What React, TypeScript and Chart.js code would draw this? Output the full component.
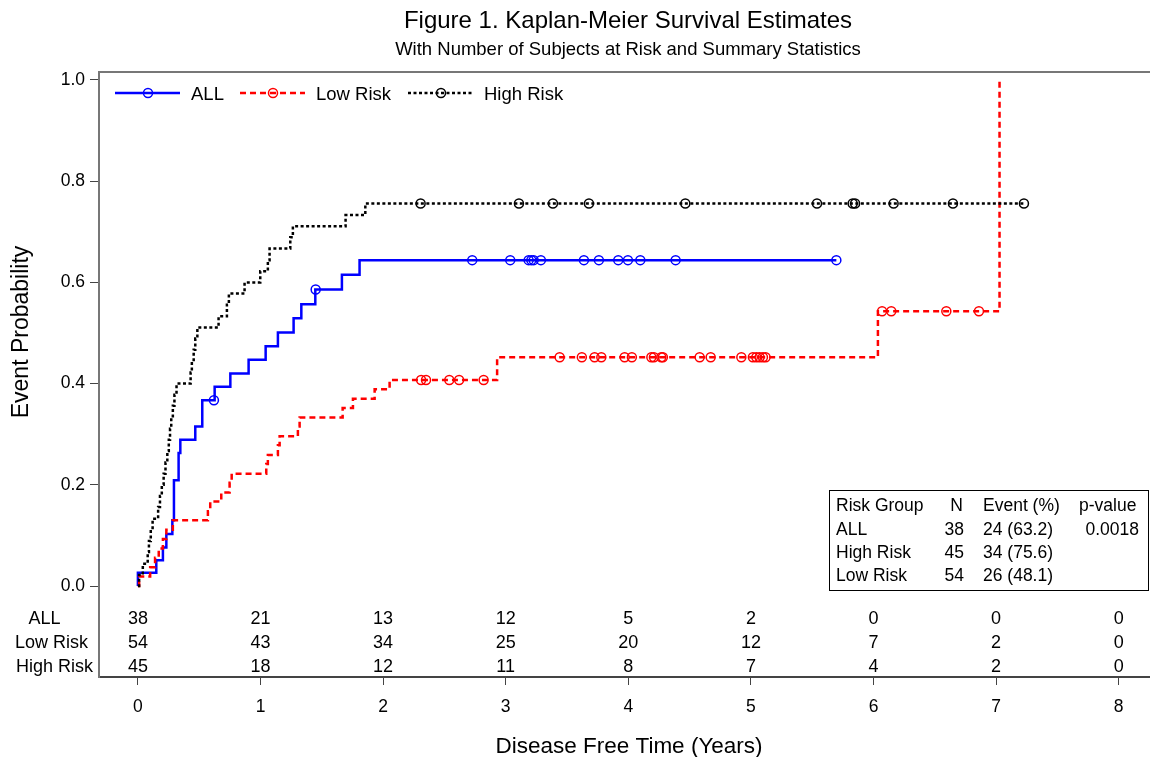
import React, { useEffect, useRef } from "react";
import { Chart, registerables } from "chart.js";

Chart.register(...registerables);

const FONT = '"Liberation Sans", Arial, Helvetica, sans-serif';

// Axis ticks
const xTicks = [0, 1, 2, 3, 4, 5, 6, 7, 8];
const yTicks = [0, 0.2, 0.4, 0.6, 0.8, 1.0];

// Titles
const titleText = "Figure 1. Kaplan-Meier Survival Estimates";
const subtitleText = "With Number of Subjects at Risk and Summary Statistics";
const xTitle = "Disease Free Time (Years)";
const yTitle = "Event Probability";

// Series names
const seriesNames = ["ALL", "Low Risk", "High Risk"];

// ALL: step times (years) and cumulative event probability
const allTimes = [0, 0, 0.150, 0.204, 0.232, 0.281, 0.294, 0.332, 0.346, 0.468, 0.525, 0.626, 0.754, 0.903, 1.042, 1.142, 1.270, 1.333, 1.447, 1.664, 1.808, 5.697];
const allProb = [0, 0.026, 0.051, 0.076, 0.103, 0.130, 0.209, 0.263, 0.289, 0.315, 0.367, 0.394, 0.420, 0.447, 0.474, 0.501, 0.529, 0.557, 0.586, 0.615, 0.644, 0.644];
const allCensor = [0.62, 1.45, 2.727, 3.037, 3.187, 3.209, 3.228, 3.287, 3.638, 3.760, 3.918, 3.997, 4.098, 4.386, 5.697];

// Low Risk
const lowTimes = [0, 0.01, 0.10, 0.14, 0.17, 0.204, 0.232, 0.285, 0.571, 0.59, 0.68, 0.748, 0.765, 1.047, 1.06, 1.142, 1.156, 1.305, 1.319, 1.67, 1.754, 1.931, 2.053, 2.93, 6.036, 7.028];
const lowProb = [0, 0.019, 0.037, 0.056, 0.074, 0.093, 0.111, 0.130, 0.148, 0.167, 0.185, 0.204, 0.222, 0.241, 0.259, 0.278, 0.296, 0.315, 0.333, 0.352, 0.370, 0.389, 0.407, 0.452, 0.543, 1.0];
const lowCensor = [2.31, 2.35, 2.54, 2.62, 2.82, 3.44, 3.621, 3.725, 3.78, 3.97, 4.029, 4.188, 4.209, 4.269, 4.282, 4.582, 4.672, 4.922, 5.016, 5.044, 5.071, 5.098, 5.12, 6.07, 6.145, 6.594, 6.86];

// High Risk
const highTimes = [0, 0.01, 0.04, 0.08, 0.09, 0.105, 0.12, 0.165, 0.18, 0.195, 0.21, 0.225, 0.24, 0.252, 0.262, 0.272, 0.285, 0.298, 0.315, 0.43, 0.44, 0.455, 0.468, 0.485, 0.658, 0.726, 0.742, 0.870, 0.998, 1.06, 1.074, 1.243, 1.264, 1.694, 1.855, 7.227];
const highProb = [0, 0.022, 0.044, 0.067, 0.089, 0.111, 0.133, 0.156, 0.178, 0.200, 0.222, 0.244, 0.267, 0.289, 0.311, 0.333, 0.356, 0.378, 0.400, 0.422, 0.444, 0.467, 0.489, 0.511, 0.533, 0.556, 0.578, 0.600, 0.622, 0.644, 0.667, 0.689, 0.711, 0.733, 0.756, 0.756];
const highCensor = [2.306, 3.108, 3.385, 3.679, 4.465, 5.539, 5.83, 5.85, 6.164, 6.648, 7.227];

// Number at risk at each x tick
const atRiskAll = [38, 21, 13, 12, 5, 2, 0, 0, 0];
const atRiskLow = [54, 43, 34, 25, 20, 12, 7, 2, 0];
const atRiskHigh = [45, 18, 12, 11, 8, 7, 4, 2, 0];

// Summary statistics table
const summaryHeader = ["Risk Group", "N", "Event (%)", "p-value"];
const summaryGroups = ["ALL", "High Risk", "Low Risk"];
const summaryN = ["38", "45", "54"];
const summaryEvents = ["24 (63.2)", "34 (75.6)", "26 (48.1)"];
const summaryP = ["0.0018", "", ""];

const COLORS = { all: "#0000FF", low: "#FF0000", high: "#000000" };

function stepPoints(times: number[], probs: number[]) {
  return times.map((t, i) => ({ x: t, y: probs[i] }));
}

function censorPoints(times: number[], probs: number[], censor: number[]) {
  return censor.map((c) => {
    let v = probs[0];
    for (let i = 0; i < times.length; i++) {
      if (times[i] <= c + 1e-9) v = probs[i];
    }
    return { x: c, y: v };
  });
}

const decorPlugin = {
  id: "decor",
  afterDraw(chart: any) {
    const { ctx, chartArea: ca, scales } = chart;
    const xs = scales.x;
    ctx.save();
    // top frame line
    ctx.strokeStyle = "#777";
    ctx.lineWidth = 2;
    ctx.beginPath();
    ctx.moveTo(ca.left - 1, ca.top);
    ctx.lineTo(ca.right, ca.top);
    ctx.stroke();

    ctx.fillStyle = "#000";
    ctx.textAlign = "center";
    ctx.textBaseline = "alphabetic";
    ctx.font = `24px ${FONT}`;
    ctx.fillText(titleText, 628, 28);
    ctx.font = `18.5px ${FONT}`;
    ctx.fillText(subtitleText, 628, 55);

    // axis titles
    ctx.font = `22.5px ${FONT}`;
    ctx.fillText(xTitle, 629, 753);
    ctx.save();
    ctx.translate(28, 332);
    ctx.rotate(-Math.PI / 2);
    ctx.font = `23px ${FONT}`;
    ctx.fillText(yTitle, 0, 0);
    ctx.restore();

    // legend
    const legendItems = [
      { name: seriesNames[0], color: COLORS.all, dash: [] as number[], x0: 115 },
      { name: seriesNames[1], color: COLORS.low, dash: [6, 4], x0: 240 },
      { name: seriesNames[2], color: COLORS.high, dash: [3, 2.5], x0: 408 },
    ];
    const ly = 93;
    legendItems.forEach((it) => {
      ctx.save();
      ctx.strokeStyle = it.color;
      ctx.lineWidth = 2.5;
      ctx.setLineDash(it.dash);
      ctx.beginPath();
      ctx.moveTo(it.x0, ly);
      ctx.lineTo(it.x0 + 65, ly);
      ctx.stroke();
      ctx.setLineDash([]);
      ctx.lineWidth = 1.5;
      ctx.beginPath();
      ctx.arc(it.x0 + 33, ly, 4.5, 0, Math.PI * 2);
      ctx.stroke();
      ctx.restore();
      ctx.fillStyle = "#000";
      ctx.textAlign = "left";
      ctx.font = `18.5px ${FONT}`;
      ctx.fillText(it.name, it.x0 + 76, ly + 6.5);
    });

    // at-risk table
    const rows = [atRiskAll, atRiskLow, atRiskHigh];
    const rowY = [617, 641, 665];
    const labelCenters = [44.5, 51.5, 54.5];
    ctx.font = `18px ${FONT}`;
    rows.forEach((row, r) => {
      ctx.textAlign = "center";
      ctx.fillText(seriesNames[r], labelCenters[r], rowY[r] + 6.5);
      row.forEach((v, i) => {
        ctx.fillText(String(v), xs.getPixelForValue(xTicks[i]), rowY[r] + 6.5);
      });
    });

    // summary table
    const bx = 829, by = 490, bw = 320, bh = 101;
    ctx.fillStyle = "#fff";
    ctx.fillRect(bx, by, bw, bh);
    ctx.strokeStyle = "#000";
    ctx.lineWidth = 1;
    ctx.strokeRect(bx + 0.5, by + 0.5, bw - 1, bh - 1);
    ctx.fillStyle = "#000";
    ctx.font = `17.5px ${FONT}`;
    const tY = [505, 529, 552, 575];
    ctx.textAlign = "left";
    ctx.fillText(summaryHeader[0], 836, tY[0] + 6.3);
    ctx.textAlign = "right";
    ctx.fillText(summaryHeader[1], 963, tY[0] + 6.3);
    ctx.textAlign = "left";
    ctx.fillText(summaryHeader[2], 983, tY[0] + 6.3);
    ctx.fillText(summaryHeader[3], 1079, tY[0] + 6.3);
    summaryGroups.forEach((g, i) => {
      const yy = tY[i + 1] + 6.3;
      ctx.textAlign = "left";
      ctx.fillText(g, 836, yy);
      ctx.textAlign = "right";
      ctx.fillText(summaryN[i], 964, yy);
      ctx.textAlign = "left";
      ctx.fillText(summaryEvents[i], 983, yy);
      ctx.textAlign = "right";
      if (summaryP[i]) ctx.fillText(summaryP[i], 1139, yy);
    });
    ctx.restore();
  },
};

export default function App() {
  const ref = useRef<HTMLCanvasElement | null>(null);
  useEffect(() => {
    if (!ref.current) return;
    const lineDs = (label: string, times: number[], probs: number[], color: string, dash: number[]) => ({
      type: "line" as const,
      label,
      data: stepPoints(times, probs),
      borderColor: color,
      borderWidth: 2.5,
      borderDash: dash,
      stepped: "before" as const,
      pointRadius: 0,
      fill: false,
      tension: 0,
    });
    const censorDs = (label: string, times: number[], probs: number[], censor: number[], color: string) => ({
      type: "line" as const,
      label,
      data: censorPoints(times, probs, censor),
      showLine: false,
      pointStyle: "circle" as const,
      pointRadius: 4.5,
      pointBorderWidth: 1.5,
      pointBorderColor: color,
      pointBackgroundColor: "rgba(0,0,0,0)",
      borderColor: color,
    });
    const chart = new Chart(ref.current, {
      type: "line",
      data: {
        datasets: [
          lineDs(seriesNames[2], highTimes, highProb, COLORS.high, [3, 2.5]),
          lineDs(seriesNames[1], lowTimes, lowProb, COLORS.low, [6, 4]),
          lineDs(seriesNames[0], allTimes, allProb, COLORS.all, []),
          censorDs("High censor", highTimes, highProb, highCensor, COLORS.high),
          censorDs("Low censor", lowTimes, lowProb, lowCensor, COLORS.low),
          censorDs("All censor", allTimes, allProb, allCensor, COLORS.all),
        ] as any,
      },
      options: {
        responsive: false,
        animation: false,
        events: [],
        layout: { autoPadding: false, padding: { top: 72, left: 0, right: 0, bottom: 0 } },
        plugins: {
          legend: { display: false },
          tooltip: { enabled: false },
          title: { display: false },
        },
        scales: {
          x: {
            type: "linear",
            min: -0.3173,
            max: 8.2553,
            afterBuildTicks: (s: any) => {
              s.ticks = xTicks.map((v) => ({ value: v }));
            },
            afterFit: (s: any) => {
              s.height = 80;
              s.paddingLeft = 0;
              s.paddingRight = 0;
            },
            grid: { drawOnChartArea: false, drawTicks: true, tickLength: 8, color: "#444", lineWidth: 1 },
            border: { display: true, color: "#444", width: 2 },
            ticks: {
              font: { family: FONT, size: 17.5 },
              color: "#000",
              padding: 12,
              maxRotation: 0,
              autoSkip: false,
              callback: (v: any) => String(v),
            },
          },
          y: {
            type: "linear",
            min: -0.1798,
            max: 1.0158,
            afterBuildTicks: (s: any) => {
              s.ticks = yTicks.map((v) => ({ value: v }));
            },
            afterFit: (s: any) => {
              s.width = 99;
              s.paddingTop = 0;
              s.paddingBottom = 0;
            },
            grid: { drawOnChartArea: false, drawTicks: true, tickLength: 9, color: "#444", lineWidth: 1 },
            border: { display: true, color: "#777", width: 2 },
            ticks: {
              font: { family: FONT, size: 17.5 },
              color: "#000",
              padding: 5,
              callback: (v: any) => Number(v).toFixed(1),
            },
          },
        },
      } as any,
      plugins: [decorPlugin],
    });
    return () => chart.destroy();
  }, []);
  return (
    <div style={{ position: "absolute", left: 0, top: 0, width: 1150, height: 757, background: "#fff" }}>
      <canvas ref={ref} width={1150} height={757} style={{ display: "block" }} />
    </div>
  );
}
